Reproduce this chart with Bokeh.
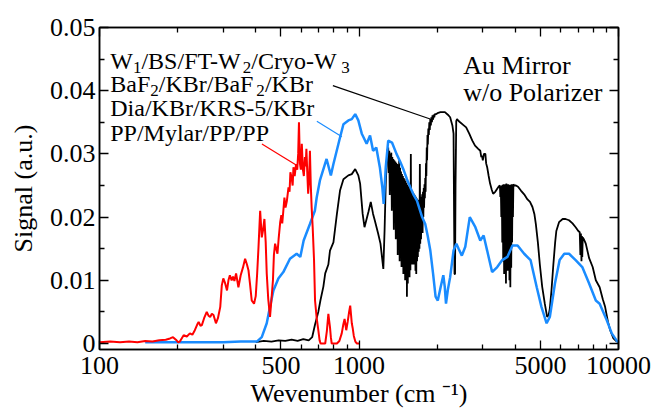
from bokeh.plotting import figure
from bokeh.models import Range1d, FixedTicker, CustomJSTickFormatter, LinearAxis, LogAxis, Label
from bokeh.embed import file_html
from bokeh.resources import INLINE

# ---------------- data ----------------
red_wn = [100, 110, 120, 130, 140, 150, 160, 170, 180, 187, 192, 197, 201, 204, 211, 217, 223, 228, 233,
          238, 241, 245, 248, 253, 259, 263, 267, 271, 275, 281, 286, 292, 296, 300, 305, 310, 314, 318,
          323, 327, 331, 336, 343, 350, 357, 364, 370, 375, 380, 386, 394, 400, 405, 410, 416, 422, 427,
          432, 437, 441, 447, 454, 460, 466, 470, 475, 480, 485, 490, 497, 502, 506, 511, 516, 521, 527,
          535, 540, 544, 550, 555, 559, 565, 572, 578, 583, 587, 592, 597, 602, 608, 613, 619, 623, 627,
          632, 637, 642, 647, 652, 657, 663, 671, 677, 687, 697, 705, 711, 741, 752, 762, 768, 773, 779,
          785, 822, 840, 858, 870, 880, 893, 905, 916, 925, 932, 938, 945, 955, 968, 982, 1000]
red_sig = [0.0002, 0.0003, 0.0002, 0.0003, 0.0002, 0.0004, 0.0003, 0.0005, 0.0006, 0.0008, 0.0010, 0.0006,
           0.0002, 0.0003, 0.0013, 0.0011, 0.0016, 0.0014, 0.0021, 0.0030, 0.0034, 0.0028, 0.0029, 0.0040,
           0.0050, 0.0044, 0.0042, 0.0047, 0.0045, 0.0032, 0.0040, 0.0058, 0.0092, 0.0103, 0.0095, 0.0084,
           0.0100, 0.0108, 0.0100, 0.0106, 0.0099, 0.0111, 0.0089, 0.0108, 0.0120, 0.0134, 0.0125, 0.0116,
           0.0095, 0.0068, 0.0063, 0.0075, 0.0110, 0.0153, 0.0210, 0.0168, 0.0180, 0.0197, 0.0160, 0.0111,
           0.0070, 0.0042, 0.0070, 0.0100, 0.0140, 0.0158, 0.0150, 0.0142, 0.0165, 0.0192, 0.0203, 0.0190,
           0.0210, 0.0231, 0.0215, 0.0225, 0.0247, 0.0240, 0.0271, 0.0262, 0.0250, 0.0279, 0.0265, 0.0284,
           0.0275, 0.0300, 0.0350, 0.0285, 0.0275, 0.0316, 0.0275, 0.0265, 0.0295, 0.0280, 0.0308, 0.0270,
           0.0237, 0.0260, 0.0305, 0.0250, 0.0215, 0.0184, 0.0132, 0.0068, 0.0040, 0.0021, 0.0005, 0.0000,
           0.0000, 0.0020, 0.0047, 0.0035, 0.0026, 0.0010, 0.0000, 0.0000, 0.0004, 0.0016, 0.0030, 0.0039,
           0.0021, 0.0035, 0.0050, 0.0060, 0.0045, 0.0032, 0.0025, 0.0012, 0.0003, 0.0000, 0.0000]

blue_wn = [150, 200, 250, 300, 350, 404, 422, 441, 454, 468, 489, 511, 542, 575, 594, 612, 647, 676, 687,
           707, 750, 779, 797, 845, 871, 910, 938, 967, 994, 1025, 1042, 1070, 1103, 1133, 1166, 1203,
           1230, 1245, 1268, 1296, 1340, 1395, 1440, 1488, 1530, 1577, 1620, 1672, 1751, 1800, 1840, 1883,
           1930, 1973, 2012, 2063, 2113, 2140, 2164, 2200, 2245, 2314, 2373, 2420, 2490, 2568, 2672, 2740,
           2808, 2933, 3022, 3118, 3258, 3409, 3566, 3731, 3904, 4084, 4330, 4582, 4841, 5047, 5284, 5437,
           5690, 5931, 6180, 6447, 6837, 7251, 7706, 8178, 8460, 9005, 9420, 9900, 10000]
blue_sig = [0.0002, 0.0002, 0.0002, 0.0002, 0.0003, 0.0003, 0.0010, 0.0032, 0.0058, 0.0084, 0.0103, 0.0113,
            0.0134, 0.0142, 0.0137, 0.0163, 0.0189, 0.0210, 0.0231, 0.0258, 0.0292, 0.0266, 0.0284, 0.0326,
            0.0347, 0.0353, 0.0355, 0.0363, 0.0353, 0.0332, 0.0326, 0.0316, 0.0329, 0.0305, 0.0310, 0.0279,
            0.0247, 0.0221, 0.0279, 0.0321, 0.0318, 0.0300, 0.0288, 0.0274, 0.0260, 0.0247, 0.0236, 0.0226,
            0.0200, 0.0189, 0.0170, 0.0147, 0.0110, 0.0074, 0.0068, 0.0089, 0.0108, 0.0090, 0.0063, 0.0085,
            0.0105, 0.0147, 0.0158, 0.0150, 0.0139, 0.0153, 0.0200, 0.0192, 0.0184, 0.0163, 0.0171, 0.0147,
            0.0113, 0.0121, 0.0132, 0.0137, 0.0155, 0.0155, 0.0142, 0.0132, 0.0089, 0.0058, 0.0032, 0.0042,
            0.0095, 0.0132, 0.0142, 0.0142, 0.0132, 0.0121, 0.0095, 0.0068, 0.0063, 0.0037, 0.0016, 0.0003,
            0.0002]

black_wn = [400, 430, 460, 490, 520, 550, 580, 610, 640, 660, 677, 697, 710, 729, 741, 762, 773, 797, 822,
            845, 871, 910, 938, 967, 994, 1010, 1033, 1050, 1087, 1110, 1133, 1150, 1185, 1210, 1241, 1255,
            1268, 1285,
            1296, 1302, 1308, 1314, 1320, 1326, 1332, 1338, 1344, 1350, 1356, 1362, 1368, 1374, 1380, 1386,
            1392, 1398, 1404, 1410, 1416, 1422, 1428, 1434, 1440, 1446, 1452, 1458, 1464, 1470, 1476, 1482,
            1488, 1494, 1500, 1506, 1512, 1518, 1524, 1530, 1536, 1542, 1548, 1554, 1560, 1566, 1572, 1578,
            1584, 1590, 1596, 1602, 1608, 1614, 1620, 1626, 1632, 1638, 1644, 1650, 1656, 1662, 1668, 1674,
            1680, 1686, 1692, 1698, 1704, 1710, 1716, 1722, 1728, 1734, 1740, 1746, 1752, 1758, 1764, 1770,
            1776, 1782, 1788, 1794, 1800, 1806, 1812, 1818, 1824, 1830, 1836, 1842, 1850, 1858, 1866, 1874,
            1883, 1892, 1900, 1910, 1920, 1930, 1940, 1950, 1960, 1986, 2020, 2060, 2100, 2143,
            2200, 2245, 2290, 2314, 2325, 2334, 2345, 2355, 2370, 2387, 2420, 2452, 2520, 2588, 2660, 2733,
            2800, 2880, 2933, 2960, 2978, 3000, 3030, 3069, 3090, 3118, 3160, 3200, 3250, 3288, 3350, 3409,
            3450, 3491,
            3505, 3520, 3535, 3550, 3565, 3580, 3595, 3610, 3625, 3640, 3655, 3670, 3684, 3698, 3712, 3726,
            3740, 3755, 3770, 3785, 3800, 3815, 3830, 3845, 3860, 3875, 3890, 3905, 3920, 3935,
            3960, 4024, 4100, 4206, 4330, 4459, 4560, 4660,
            4740, 4803, 4890, 4976, 5080, 5200, 5308, 5380, 5437, 5520, 5610, 5700, 5760, 5900, 6093, 6250,
            6447, 6650, 6837, 7000, 7090, 7130, 7165, 7200, 7230, 7251, 7280, 7350, 7480, 7706, 7952, 8178,
            8460, 8700, 8880, 9100, 9290, 9561, 9800, 10000]
black_sig = [0.0002, 0.0004, 0.0003, 0.0005, 0.0004, 0.0006, 0.0004, 0.0007, 0.0005, 0.0010, 0.0030, 0.0050,
             0.0068, 0.0090, 0.0111, 0.0125, 0.0147, 0.0160, 0.0205, 0.0242, 0.0260, 0.0266, 0.0268, 0.0276,
             0.0266, 0.0253, 0.0205, 0.0184, 0.0208, 0.0224, 0.0205, 0.0195, 0.0174, 0.0158, 0.0118, 0.0180,
             0.0253, 0.0305,
             0.0310, 0.0270, 0.0305, 0.0235, 0.0300, 0.0260, 0.0302, 0.0210, 0.0295, 0.0240, 0.0292, 0.0180,
             0.0290, 0.0220, 0.0288, 0.0165, 0.0286, 0.0200, 0.0284, 0.0140, 0.0282, 0.0190, 0.0290, 0.0130,
             0.0278, 0.0170, 0.0272, 0.0121, 0.0268, 0.0160, 0.0265, 0.0110, 0.0262, 0.0150, 0.0260, 0.0100,
             0.0257, 0.0130, 0.0254, 0.0074, 0.0251, 0.0095, 0.0249, 0.0120, 0.0247, 0.0105, 0.0245, 0.0116,
             0.0300, 0.0135, 0.0242, 0.0125, 0.0240, 0.0140, 0.0238, 0.0125, 0.0236, 0.0137, 0.0234, 0.0115,
             0.0232, 0.0110, 0.0230, 0.0130, 0.0228, 0.0137, 0.0227, 0.0145, 0.0226, 0.0150, 0.0284, 0.0158,
             0.0228, 0.0165, 0.0232, 0.0190, 0.0236, 0.0175, 0.0240, 0.0200, 0.0246, 0.0215, 0.0252, 0.0230,
             0.0262, 0.0240, 0.0285, 0.0265, 0.0310, 0.0290, 0.0330, 0.0315, 0.0340, 0.0330, 0.0350, 0.0338,
             0.0355, 0.0345, 0.0358, 0.0350, 0.0361, 0.0354, 0.0362, 0.0358, 0.0363, 0.0363, 0.0365, 0.0366,
             0.0366, 0.0366,
             0.0362, 0.0358, 0.0345, 0.0332, 0.0200, 0.0110, 0.0110, 0.0250, 0.0352, 0.0355, 0.0352, 0.0350,
             0.0346, 0.0342, 0.0332, 0.0321, 0.0313, 0.0308, 0.0305, 0.0295, 0.0297, 0.0290, 0.0300, 0.0300,
             0.0285, 0.0279, 0.0265, 0.0253, 0.0243, 0.0237, 0.0240, 0.0245, 0.0248, 0.0250,
             0.0232, 0.0246, 0.0200, 0.0250, 0.0160, 0.0251, 0.0130, 0.0252, 0.0110, 0.0250, 0.0140, 0.0252,
             0.0095, 0.0253, 0.0150, 0.0250, 0.0115, 0.0252, 0.0130, 0.0250, 0.0100, 0.0251, 0.0089, 0.0250,
             0.0120, 0.0252, 0.0160, 0.0252, 0.0200, 0.0252,
             0.0250, 0.0250, 0.0248, 0.0242, 0.0236, 0.0228, 0.0224, 0.0216,
             0.0205, 0.0189, 0.0160, 0.0125, 0.0090, 0.0063, 0.0042, 0.0045, 0.0055, 0.0085, 0.0125, 0.0160,
             0.0178, 0.0192, 0.0197, 0.0197, 0.0195, 0.0190, 0.0184, 0.0178, 0.0176, 0.0140, 0.0174, 0.0130,
             0.0170, 0.0137, 0.0168, 0.0165, 0.0158, 0.0135, 0.0121, 0.0100, 0.0089, 0.0070, 0.0058, 0.0035,
             0.0021, 0.0008, 0.0004, 0.0003]

x_major = [100, 500, 1000, 5000, 10000]
x_minor = [200, 300, 400, 600, 700, 800, 900, 2000, 3000, 4000, 6000, 7000, 8000, 9000]
y_major = [0, 0.01, 0.02, 0.03, 0.04, 0.05]
y_minor = [0.005, 0.015, 0.025, 0.035, 0.045]

FONT = "Liberation Serif"
BLUE = "#1a8cff"

p = figure(width=655, height=410, x_axis_type="log",
           x_range=Range1d(100, 10000), y_range=Range1d(-0.00095, 0.05),
           output_backend="svg", toolbar_location=None,
           min_border_left=99, min_border_right=37, min_border_top=27, min_border_bottom=61)
p.grid.visible = False
p.outline_line_color = "black"
p.outline_line_width = 1.5
p.background_fill_color = "white"
p.border_fill_color = "white"

xfmt = CustomJSTickFormatter(code="return tick.toFixed(0);")
yfmt = CustomJSTickFormatter(code="return tick == 0 ? '0' : tick.toFixed(2);")
blank = CustomJSTickFormatter(code="return '';")


def style(ax, show):
    ax.axis_line_width = 1.5
    ax.axis_line_color = "black"
    ax.major_tick_in = 9
    ax.major_tick_out = 0
    ax.minor_tick_in = 5
    ax.minor_tick_out = 0
    ax.major_tick_line_width = 1.3
    ax.minor_tick_line_width = 1.3
    ax.major_tick_line_color = "black"
    ax.minor_tick_line_color = "black"
    ax.major_label_text_font = FONT
    ax.major_label_text_color = "black"
    if show:
        ax.major_label_text_font_size = "26px"
    else:
        ax.major_label_text_font_size = "0px"
        ax.major_label_standoff = 0


bottom = p.below[0]
bottom.ticker = FixedTicker(ticks=x_major, minor_ticks=x_minor)
bottom.formatter = xfmt
style(bottom, True)
bottom.major_label_standoff = 7
bottom.axis_label = "Wevenumber (cm \u207b\u00b9)"
bottom.axis_label_text_font = FONT
bottom.axis_label_text_font_size = "26px"
bottom.axis_label_text_font_style = "normal"
bottom.axis_label_text_color = "black"
bottom.axis_label_standoff = 2

left = p.left[0]
left.ticker = FixedTicker(ticks=y_major, minor_ticks=y_minor)
left.formatter = yfmt
style(left, True)
left.major_label_standoff = 4
left.axis_label = "Signal (a.u.)"
left.axis_label_text_font = FONT
left.axis_label_text_font_size = "26px"
left.axis_label_text_font_style = "normal"
left.axis_label_text_color = "black"
left.axis_label_standoff = 9

top = LogAxis(ticker=FixedTicker(ticks=x_major, minor_ticks=x_minor), formatter=blank)
style(top, False)
p.add_layout(top, "above")
right = LinearAxis(ticker=FixedTicker(ticks=y_major, minor_ticks=y_minor), formatter=blank)
style(right, False)
p.add_layout(right, "right")

# spectra
p.line(black_wn, black_sig, color="black", line_width=1.8)
p.line(blue_wn, blue_sig, color=BLUE, line_width=2.5)
p.line(red_wn, red_sig, color="red", line_width=2)

# leader lines
p.segment(x0=[793], y0=[0.0408], x1=[1881], y1=[0.03553], color="black", line_width=1.2)
p.segment(x0=[688], y0=[0.03515], x1=[859], y1=[0.03273], color=BLUE, line_width=1.2)
p.segment(x0=[422.6], y0=[0.03158], x1=[576.5], y1=[0.02815], color="red", line_width=1.2)


def lbl(x, y, text, size, xo=0.0, yo=0.0, color="black"):
    p.add_layout(Label(x=x, y=y, text=text, x_offset=xo, y_offset=yo, text_font=FONT,
                       text_font_size=f"{size}px", text_color=color,
                       text_baseline="alphabetic", text_align="left"))


X0 = 110
SUB = -6.5
Y1, Y2, Y3, Y4 = 0.04472, 0.04104, 0.03725, 0.0333
# line 1: W1/BS/FT-W2/Cryo-W3
lbl(X0, Y1, "W", 24, 0)
lbl(X0, Y1, "1", 17, 22.7, SUB)
lbl(X0, Y1, "/BS/FT-W", 24, 31.2)
lbl(X0, Y1, "2", 17, 132.5, SUB)
lbl(X0, Y1, "/Cryo-W", 24, 141.0)
lbl(X0, Y1, "3", 17, 231.0, SUB)
# line 2: BaF2/KBr/BaF2/KBr
lbl(X0, Y2, "BaF", 24, 0)
lbl(X0, Y2, "2", 17, 40.0, SUB)
lbl(X0, Y2, "/KBr/BaF", 24, 48.5)
lbl(X0, Y2, "2", 17, 146.0, SUB)
lbl(X0, Y2, "/KBr", 24, 154.7)
# line 3, 4
lbl(X0, Y3, "Dia/KBr/KRS-5/KBr", 24)
lbl(X0, Y4, "PP/Mylar/PP/PP", 24)

lbl(2520, 0.04402, "Au Mirror", 26)
lbl(2520, 0.03975, "w/o Polarizer", 26)

open("out.html", "w").write(file_html(p, INLINE))
